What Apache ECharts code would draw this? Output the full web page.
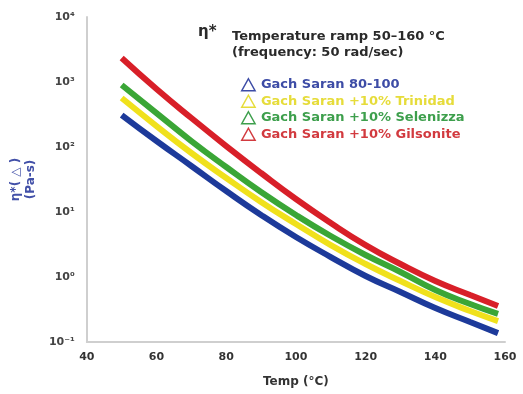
<!DOCTYPE html>
<html><head><meta charset="utf-8">
<script src="https://cdn.jsdelivr.net/npm/echarts@6/dist/echarts.min.js"></script>
<style>html,body{margin:0;padding:0;background:#fff}#c{width:523px;height:394px}</style>
</head><body><div id="c"></div>
<script>
const temps = [50, 60, 70, 80, 90, 100, 110, 120, 130, 140, 150, 158];
const seriesNames = ['Gach Saran 80-100', 'Gach Saran +10% Trinidad', 'Gach Saran +10% Selenizza', 'Gach Saran +10% Gilsonite'];
const blueVals   = [310, 123.6, 51.1, 21.0, 8.99, 4.12, 2.03, 1.036, 0.588, 0.333, 0.203, 0.137];
const yellowVals = [567, 210, 80.9, 33.4, 14.3, 6.54, 3.10, 1.585, 0.868, 0.492, 0.30, 0.21];
const greenVals  = [900, 333, 123.6, 49.2, 20.3, 8.99, 4.27, 2.18, 1.194, 0.631, 0.384, 0.27];
const redVals    = [2340, 780, 279, 103.5, 39.8, 15.85, 6.78, 3.10, 1.585, 0.868, 0.528, 0.358];
const xTicks = [40, 60, 80, 100, 120, 140, 160];
const yTickValues = [0.1, 1, 10, 100, 1000, 10000];
const yTickLabels = ['10⁻¹', '10⁰', '10¹', '10²', '10³', '10⁴'];

const lineColors = ['#1d3a9a', '#f0e11c', '#3aa636', '#d81f28'];
const textColors = ['#3d4ca6', '#e6dc3a', '#3d9f4c', '#d23a3f'];
const allVals = [blueVals, yellowVals, greenVals, redVals];

const chart = echarts.init(document.getElementById('c'));
const font = '"DejaVu Sans", sans-serif';

chart.setOption({
  animation: false,
  backgroundColor: '#fff',
  grid: { left: 82, right: 18, top: 17, bottom: 52 },
  title: {
    text: 'Temperature ramp 50–160 °C\n(frequency: 50 rad/sec)',
    left: 227, top: 24,
    textStyle: { fontFamily: font, fontSize: 13, fontWeight: 'bold', color: '#2a2a2a', lineHeight: 16 }
  },
  graphic: [{
    type: 'text', left: 198, top: 25,
    style: { text: 'η*', font: 'bold 15px ' + font, fill: '#2a2a2a' }
  }],
  legend: {
    orient: 'vertical', left: 236, top: 73, itemGap: 3,
    itemWidth: 15, itemHeight: 12,
    icon: 'path://M5,0 L10,9 L0,9 Z',
    data: seriesNames.map((n, i) => ({
      name: n,
      itemStyle: { color: 'transparent', borderColor: textColors[i], borderWidth: 1.5 },
      textStyle: { color: textColors[i], fontFamily: font, fontSize: 13, fontWeight: 'bold' }
    }))
  },
  xAxis: {
    type: 'value', min: 40, max: 160, interval: 20,
    name: 'Temp (°C)', nameLocation: 'middle', nameGap: 34,
    nameTextStyle: { fontFamily: font, fontSize: 12, fontWeight: 'bold', color: '#333' },
    axisLine: { lineStyle: { color: '#cfcfcf', width: 2 } },
    axisTick: { show: false },
    splitLine: { show: false },
    axisLabel: {
      fontFamily: font, fontSize: 11, fontWeight: 'bold', color: '#333', margin: 10,
      formatter: v => xTicks.includes(v) ? String(v) : ''
    }
  },
  yAxis: {
    type: 'log', logBase: 10, min: 0.1, max: 10000,
    name: 'η*( △ )\n(Pa-s)', nameLocation: 'middle', nameGap: 46, nameRotate: 90,
    nameTextStyle: { fontFamily: font, fontSize: 12, fontWeight: 'bold', color: '#4250a8', lineHeight: 15 },
    axisLine: { show: true, lineStyle: { color: '#cfcfcf', width: 2 } },
    axisTick: { show: false },
    splitLine: { show: false },
    minorTick: { show: false },
    axisLabel: {
      fontFamily: font, fontSize: 11, fontWeight: 'bold', color: '#444', margin: 12,
      formatter: v => {
        const i = yTickValues.findIndex(t => Math.abs(Math.log10(t) - Math.log10(v)) < 1e-6);
        return i >= 0 ? yTickLabels[i] : '';
      }
    }
  },
  series: seriesNames.map((n, i) => ({
    name: n, type: 'line', smooth: 0.5, symbol: 'none',
    lineStyle: { color: lineColors[i], width: 6, cap: 'butt' },
    itemStyle: { color: lineColors[i] },
    data: temps.map((t, k) => [t, allVals[i][k]])
  }))
});
</script></body></html>
